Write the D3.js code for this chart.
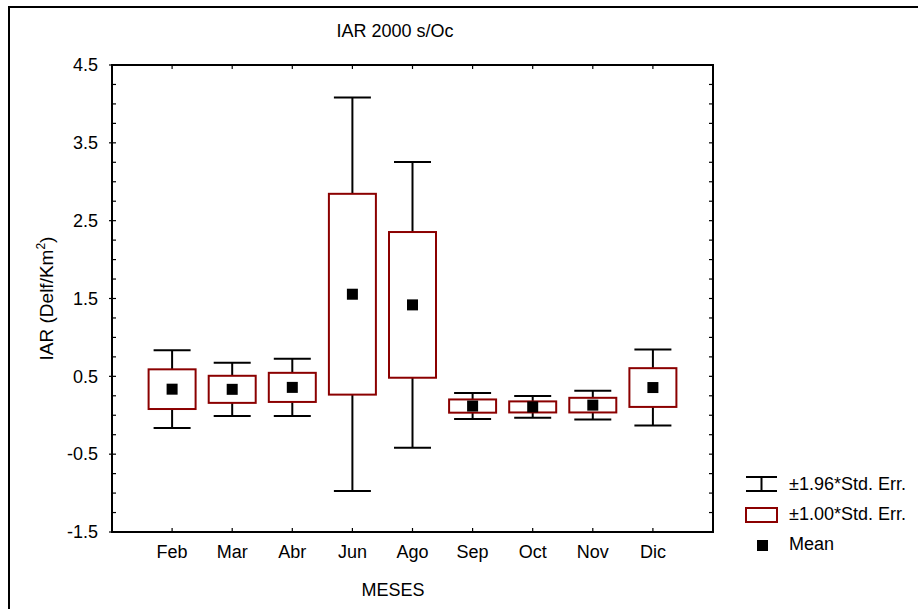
<!DOCTYPE html>
<html>
<head>
<meta charset="utf-8">
<script src="https://cdn.jsdelivr.net/npm/d3@7"></script>
<style>
  html, body { margin: 0; padding: 0; background: #fff; }
  svg { display: block; font-family: "Liberation Sans", Arial, sans-serif; }
</style>
</head>
<body>
<svg id="chart" width="918" height="609"></svg>
<script>
// Monthly IAR means and standard errors
const months = ["Feb", "Mar", "Abr", "Jun", "Ago", "Sep", "Oct", "Nov", "Dic"];
const means  = [0.335, 0.333, 0.358, 1.555, 1.418, 0.118, 0.107, 0.130, 0.356];
const stdErr = [0.255, 0.174, 0.187, 1.290, 0.936, 0.085, 0.071, 0.094, 0.249];
const yTickLabels = [-1.5, -0.5, 0.5, 1.5, 2.5, 3.5, 4.5];
const legendItems = ["±1.96*Std. Err.", "±1.00*Std. Err.", "Mean"];

const boxColor = "#8b0000";
const fs = 18;
const svg = d3.select("#chart");

const plot = { left: 112, right: 713, top: 65, bottom: 532 };

const x = d3.scalePoint().domain(months).range([plot.left, plot.right]).padding(1);
const y = d3.scaleLinear().domain([-1.5, 4.5]).range([plot.bottom, plot.top]);
const fmt = v => d3.format(".1f")(v).replace("\u2212", "-");

// Outer frame
svg.append("rect")
  .attr("x", 9).attr("y", 7).attr("width", 940).attr("height", 640)
  .attr("fill", "none").attr("stroke", "#000").attr("stroke-width", 2);

// Title
svg.append("text")
  .attr("x", 395).attr("y", 37)
  .attr("text-anchor", "middle").attr("font-size", fs)
  .text("IAR 2000 s/Oc");

// Minor ticks every 0.25 on left and right edges
const minorVals = d3.range(-1.5, 4.5001, 0.25);
const gTicks = svg.append("g").attr("stroke", "#000").attr("stroke-width", 1.2);
minorVals.forEach(v => {
  gTicks.append("line").attr("x1", plot.left).attr("x2", plot.left + 4)
    .attr("y1", y(v)).attr("y2", y(v));
  gTicks.append("line").attr("x1", plot.right - 4).attr("x2", plot.right)
    .attr("y1", y(v)).attr("y2", y(v));
});
// Outward ticks at labelled values
yTickLabels.forEach(v => {
  gTicks.append("line").attr("x1", plot.left - 3).attr("x2", plot.left)
    .attr("y1", y(v)).attr("y2", y(v));
});
// Category ticks top and bottom, plus slot boundaries
const step = x.step();
const xTickPos = d3.range(0, months.length + 2).map(i => plot.left + i * step);
xTickPos.forEach(px => {
  gTicks.append("line").attr("x1", px).attr("x2", px)
    .attr("y1", plot.top).attr("y2", plot.top + 4);
  gTicks.append("line").attr("x1", px).attr("x2", px)
    .attr("y1", plot.bottom - 4).attr("y2", plot.bottom);
});

// Y tick labels
svg.append("g").selectAll("text").data(yTickLabels).join("text")
  .attr("x", plot.left - 14).attr("y", d => y(d))
  .attr("dy", "0.35em").attr("text-anchor", "end").attr("font-size", fs)
  .text(fmt);

// X tick labels
svg.append("g").selectAll("text").data(months).join("text")
  .attr("x", d => x(d)).attr("y", 552)
  .attr("dy", "0.35em").attr("text-anchor", "middle").attr("font-size", fs)
  .text(d => d);

// Axis titles
svg.append("text")
  .attr("x", 393).attr("y", 596)
  .attr("text-anchor", "middle").attr("font-size", fs)
  .text("MESES");

const yTitle = svg.append("text")
  .attr("transform", `translate(53,${(plot.top + plot.bottom) / 2}) rotate(-90)`)
  .attr("text-anchor", "middle").attr("font-size", 19);
yTitle.append("tspan").text("IAR (Delf/Km");
yTitle.append("tspan").attr("font-size", 12).attr("dy", -8).text("2");
yTitle.append("tspan").attr("dy", 8).text(")");

// Data marks
const data = months.map((m, i) => ({ m, mean: means[i], se: stdErr[i] }));
const boxW = 47, capW = 37, meanS = 11;
const g = svg.append("g");

data.forEach(d => {
  const cx = x(d.m);
  const wHi = d.mean + 1.96 * d.se, wLo = d.mean - 1.96 * d.se;
  const bHi = d.mean + d.se, bLo = d.mean - d.se;
  // whiskers
  g.append("line").attr("x1", cx).attr("x2", cx).attr("y1", y(wHi)).attr("y2", y(bHi))
    .attr("stroke", "#000").attr("stroke-width", 2);
  g.append("line").attr("x1", cx).attr("x2", cx).attr("y1", y(bLo)).attr("y2", y(wLo))
    .attr("stroke", "#000").attr("stroke-width", 2);
  g.append("line").attr("x1", cx - capW / 2).attr("x2", cx + capW / 2)
    .attr("y1", y(wHi)).attr("y2", y(wHi)).attr("stroke", "#000").attr("stroke-width", 2);
  g.append("line").attr("x1", cx - capW / 2).attr("x2", cx + capW / 2)
    .attr("y1", y(wLo)).attr("y2", y(wLo)).attr("stroke", "#000").attr("stroke-width", 2);
  // box
  g.append("rect").attr("x", cx - boxW / 2).attr("y", y(bHi))
    .attr("width", boxW).attr("height", y(bLo) - y(bHi))
    .attr("fill", "#fff").attr("stroke", boxColor).attr("stroke-width", 2);
  // mean
  g.append("rect").attr("x", cx - meanS / 2).attr("y", y(d.mean) - meanS / 2)
    .attr("width", meanS).attr("height", meanS).attr("fill", "#000");
});

// Plot frame
svg.append("rect")
  .attr("x", plot.left).attr("y", plot.top)
  .attr("width", plot.right - plot.left).attr("height", plot.bottom - plot.top)
  .attr("fill", "none").attr("stroke", "#000").attr("stroke-width", 2);

// Legend
const lg = svg.append("g");
const lx = 746, lw = 31;
// whisker symbol
lg.append("line").attr("x1", lx).attr("x2", lx + lw).attr("y1", 477).attr("y2", 477)
  .attr("stroke", "#000").attr("stroke-width", 2);
lg.append("line").attr("x1", lx).attr("x2", lx + lw).attr("y1", 491).attr("y2", 491)
  .attr("stroke", "#000").attr("stroke-width", 2);
lg.append("line").attr("x1", lx + lw / 2).attr("x2", lx + lw / 2).attr("y1", 477).attr("y2", 491)
  .attr("stroke", "#000").attr("stroke-width", 2);
// box symbol
lg.append("rect").attr("x", lx).attr("y", 508).attr("width", lw).attr("height", 14)
  .attr("fill", "#fff").attr("stroke", boxColor).attr("stroke-width", 2);
// mean symbol
lg.append("rect").attr("x", 757).attr("y", 540).attr("width", 11).attr("height", 11)
  .attr("fill", "#000");
lg.selectAll("text").data(legendItems).join("text")
  .attr("x", 789).attr("y", (d, i) => 484 + i * 30)
  .attr("dy", "0.35em").attr("font-size", fs)
  .text(d => d);
</script>
</body>
</html>
